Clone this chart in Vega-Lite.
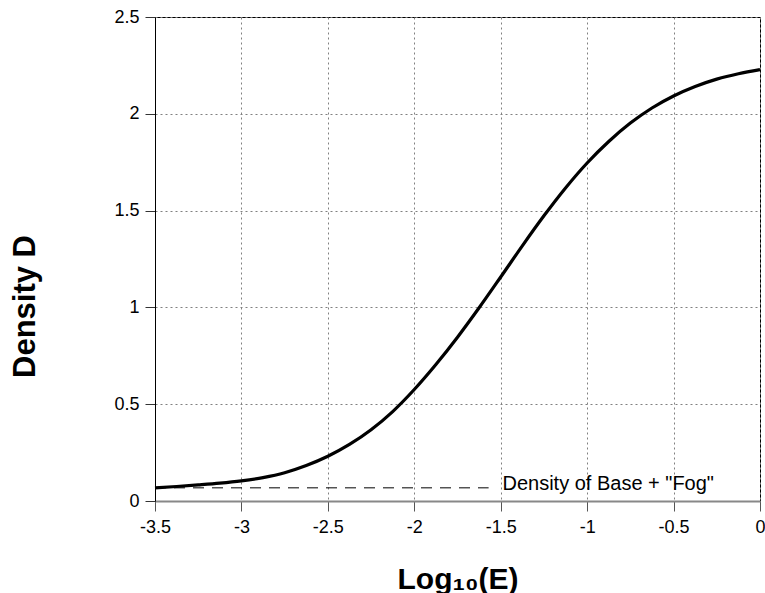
{
  "$schema": "https://vega.github.io/schema/vega-lite/v6.json",
  "autosize": "none",
  "width": 605,
  "height": 484,
  "padding": {"left": 155, "top": 17, "right": 5, "bottom": 92},
  "background": "white",
  "config": {
    "font": "Liberation Sans",
    "view": {"stroke": "#000", "strokeWidth": 1},
    "axis": {"labelFont": "Liberation Sans", "titleFont": "Liberation Sans"}
  },
  "datasets": {
    "curve": [
      {"logE": -3.5, "D": 0.068},
      {"logE": -3.375, "D": 0.075},
      {"logE": -3.25, "D": 0.083},
      {"logE": -3.125, "D": 0.092},
      {"logE": -3.0, "D": 0.104},
      {"logE": -2.875, "D": 0.121},
      {"logE": -2.75, "D": 0.146},
      {"logE": -2.625, "D": 0.183},
      {"logE": -2.5, "D": 0.231},
      {"logE": -2.375, "D": 0.292},
      {"logE": -2.25, "D": 0.368},
      {"logE": -2.125, "D": 0.462},
      {"logE": -2.0, "D": 0.576},
      {"logE": -1.875, "D": 0.705},
      {"logE": -1.75, "D": 0.846},
      {"logE": -1.625, "D": 0.998},
      {"logE": -1.5, "D": 1.157},
      {"logE": -1.375, "D": 1.318},
      {"logE": -1.25, "D": 1.473},
      {"logE": -1.125, "D": 1.617},
      {"logE": -1.0, "D": 1.746},
      {"logE": -0.875, "D": 1.857},
      {"logE": -0.75, "D": 1.952},
      {"logE": -0.625, "D": 2.03},
      {"logE": -0.5, "D": 2.092},
      {"logE": -0.375, "D": 2.141},
      {"logE": -0.25, "D": 2.179},
      {"logE": -0.125, "D": 2.207},
      {"logE": 0.0, "D": 2.228}
    ],
    "fog": [
      {"logE": -3.5, "D": 0.068},
      {"logE": -1.57, "D": 0.068}
    ],
    "label": [
      {"logE": -1.49, "D": 0.068, "text": "Density of Base + \"Fog\""}
    ]
  },
  "layer": [
    {
      "data": {"name": "fog"},
      "mark": {"type": "line", "color": "#000", "strokeWidth": 1, "strokeDash": [11, 8]},
      "encoding": {
        "x": {
          "field": "logE", "type": "quantitative",
          "scale": {"domain": [-3.5, 0], "nice": false, "zero": false},
          "axis": {
            "values": [-3.5, -3, -2.5, -2, -1.5, -1, -0.5, 0],
            "title": "Log₁₀(E)",
            "titleFontSize": 30, "titleFontWeight": "bold", "titleColor": "#000",
            "titleBaseline": "alphabetic", "titleY": 87,
            "labelFontSize": 18, "labelColor": "#000", "labelPadding": 7,
            "tickSize": 10, "tickColor": "#555",
            "domainColor": "#888", "domainWidth": 2,
            "grid": true, "gridColor": "#808080", "gridDash": [2, 3], "gridWidth": 1,
            "labelFlush": false, "labelExpr": "'' + datum.value"
          }
        },
        "y": {
          "field": "D", "type": "quantitative",
          "scale": {"domain": [0, 2.5], "nice": false},
          "axis": {
            "values": [0, 0.5, 1, 1.5, 2, 2.5],
            "title": "Density D",
            "titleFontSize": 31, "titleFontWeight": "bold", "titleColor": "#000",
            "titleX": -130, "titleY": 289, "titleBaseline": "middle",
            "labelFontSize": 18, "labelColor": "#000", "labelPadding": 6,
            "tickSize": 10, "tickColor": "#333",
            "domainColor": "#000",
            "grid": true, "gridColor": "#808080", "gridDash": [2, 3], "gridWidth": 1,
            "labelFlush": false, "labelExpr": "'' + datum.value"
          }
        }
      }
    },
    {
      "data": {"name": "curve"},
      "mark": {"type": "line", "color": "#000", "strokeWidth": 3.2, "interpolate": "monotone"},
      "encoding": {
        "x": {"field": "logE", "type": "quantitative"},
        "y": {"field": "D", "type": "quantitative"}
      }
    },
    {
      "data": {"name": "label"},
      "mark": {"type": "text", "align": "left", "baseline": "middle", "dy": -4, "fontSize": 20, "color": "#000", "font": "Liberation Sans"},
      "encoding": {
        "x": {"field": "logE", "type": "quantitative"},
        "y": {"field": "D", "type": "quantitative"},
        "text": {"field": "text"}
      }
    }
  ]
}
